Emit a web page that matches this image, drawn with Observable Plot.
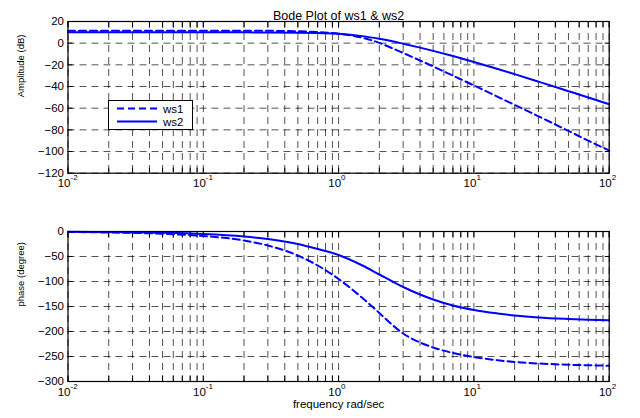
<!DOCTYPE html>
<html><head><meta charset="utf-8">
<script src="https://cdn.jsdelivr.net/npm/d3@7"></script>
<script src="https://cdn.jsdelivr.net/npm/@observablehq/plot@0.6"></script>
<style>
body{margin:0;background:#fff;font-family:Arial,"Liberation Sans",sans-serif}
#wrap{position:relative;width:640px;height:418px;overflow:hidden}
#wrap svg{display:block}
#legend{position:absolute;left:108px;top:100px;width:85px;height:30px;border:1.3px solid #000;background:#fff;box-sizing:border-box}
</style></head><body><div id="wrap"></div>
<script>
// frequency samples (rad/sec)
const freq = [0.01,0.02,0.05,0.1,0.2,0.3,0.5,0.7,1,1.5,2,2.5,3,4,5,7,10,15,20,30,50,70,100];
// amplitude (dB)
const ws1Mag = [11.5,11.5,11.5,11.5,11.5,11.4,11.0,10.2,8.7,5.0,0.3,-4.7,-9,-16,-21.5,-30,-39,-49.5,-57,-67.5,-81,-90,-99];
const ws2Mag = [10,10,10,10,10,9.9,9.7,9.3,8.7,6.5,4.0,1.7,-0.5,-4.1,-7.1,-11.9,-17.3,-23.8,-28.6,-35.5,-44.3,-50.1,-56.3];
// phase (degree)
const ws1Phase = [-1,-2,-4.5,-9,-18,-28,-48,-68,-95,-133,-163,-187,-204,-222,-232,-243,-251,-257.5,-261,-264,-266.5,-267.5,-268.5];
const ws2Phase = [-0.5,-1,-2.5,-5,-10,-15,-25,-35,-47,-68,-86,-100,-111,-126,-136,-148,-157,-164,-168,-172,-175,-176.5,-177.5];

const decades = [0.01,0.1,1,10,100];
const decadeBase = ["10","10","10","10","10"];
const decadeExp = ["-2","-1","0","1","2"];
const magTicks = [20,0,-20,-40,-60,-80,-100,-120];
const phaseTicks = [0,-50,-100,-150,-200,-250,-300];
const seriesNames = ["ws1","ws2"];
const titleText = ["Bode Plot of ws1 & ws2"];
const magLabel = ["Amplitude (dB)"];
const phaseLabel = ["phase (degree)"];
const xLabel = ["frequency rad/sec"];

// all log grid positions (1..9 per decade)
const xGrid = [];
for (const d of decades.slice(0, -1)) for (let k = 1; k < 10; k++) xGrid.push(+(d * k).toPrecision(3));
xGrid.push(100);

const table = (vals) => freq.map((f, i) => ({f, v: vals[i]}));
const BLUE = "#0000ff";
const font = "Arial, 'Liberation Sans', sans-serif";

function panel({height, marginTop, marginBottom, yDomain, yTicks, a, b, extra}) {
  return Plot.plot({
    width: 640, height, marginTop, marginBottom, marginLeft: 67.5, marginRight: 31.3,
    style: {fontFamily: font, fontSize: "11px", background: "white", color: "black", overflow: "visible"},
    x: {type: "log", domain: [0.01, 100], label: null},
    y: {domain: yDomain, label: null},
    marks: [
      Plot.gridX(xGrid, {stroke: "#000", strokeOpacity: 0.85, strokeWidth: 0.8, strokeDasharray: "7,5"}),
      Plot.gridY(yTicks, {stroke: "#000", strokeOpacity: 0.85, strokeWidth: 0.8, strokeDasharray: "7,5"}),
      Plot.axisX(xGrid, {anchor: "bottom", tickSize: -5, tickFormat: () => "", label: null}),
      Plot.axisX(xGrid, {anchor: "top", tickSize: -5, tickFormat: () => "", label: null}),
      Plot.axisY(yTicks, {anchor: "left", tickSize: -5, tickFormat: () => "", label: null}),
      Plot.axisY(yTicks, {anchor: "right", tickSize: -5, tickFormat: () => "", label: null}),
      Plot.axisY(yTicks, {anchor: "left", tickSize: 0, tickPadding: 4, label: null, fontSize: 11.5}),
      Plot.text(decades, {x: d => d, text: (d, i) => decadeBase[i], frameAnchor: "bottom", dy: 14, dx: 2.5, textAnchor: "end", fontSize: 11.5}),
      Plot.text(decades, {x: d => d, text: (d, i) => decadeExp[i], frameAnchor: "bottom", dy: 7, dx: 2.5, textAnchor: "start", fontSize: 8}),
      Plot.line(table(b), {x: "f", y: "v", stroke: BLUE, strokeWidth: 2, curve: "monotone-x"}),
      Plot.line(table(a), {x: "f", y: "v", stroke: BLUE, strokeWidth: 2, strokeDasharray: "7,4", curve: "monotone-x"}),
      Plot.frame({stroke: "#000", strokeWidth: 1.2}),
      ...extra
    ]
  });
}

const magPanel = panel({
  height: 200, marginTop: 21, marginBottom: 27.3, yDomain: [-120, 20], yTicks: magTicks,
  a: ws1Mag, b: ws2Mag,
  extra: [
    Plot.text(titleText, {text: d => d, frameAnchor: "top", dy: -10, fontSize: 12.5}),
    Plot.text(magLabel, {text: d => d, frameAnchor: "left", rotate: -90, dx: -47, fontSize: 9.5})
  ]
});
const phasePanel = panel({
  height: 218, marginTop: 31, marginBottom: 37, yDomain: [-300, 0], yTicks: phaseTicks,
  a: ws1Phase, b: ws2Phase,
  extra: [
    Plot.text(phaseLabel, {text: d => d, frameAnchor: "left", rotate: -90, dx: -47, fontSize: 9.5}),
    Plot.text(xLabel, {text: d => d, frameAnchor: "bottom", dy: 26, fontSize: 11.5})
  ]
});
const wrap = document.getElementById("wrap");
wrap.appendChild(magPanel);
wrap.appendChild(phasePanel);

// legend
const lg = document.createElement("div");
lg.id = "legend";
const NS = "http://www.w3.org/2000/svg";
const ls = document.createElementNS(NS, "svg");
ls.setAttribute("width", 83); ls.setAttribute("height", 28);
seriesNames.forEach((name, i) => {
  const yy = 7.5 + i * 13;
  const ln = document.createElementNS(NS, "line");
  ln.setAttribute("x1", 8); ln.setAttribute("x2", 48);
  ln.setAttribute("y1", yy); ln.setAttribute("y2", yy);
  ln.setAttribute("stroke", BLUE); ln.setAttribute("stroke-width", 2);
  if (i === 0) ln.setAttribute("stroke-dasharray", "7,4");
  ls.appendChild(ln);
  const tx = document.createElementNS(NS, "text");
  tx.setAttribute("x", 54); tx.setAttribute("y", yy + 4);
  tx.setAttribute("font-size", 11.5); tx.setAttribute("font-family", font);
  tx.textContent = name;
  ls.appendChild(tx);
});
lg.appendChild(ls);
wrap.appendChild(lg);
</script>
</body></html>
